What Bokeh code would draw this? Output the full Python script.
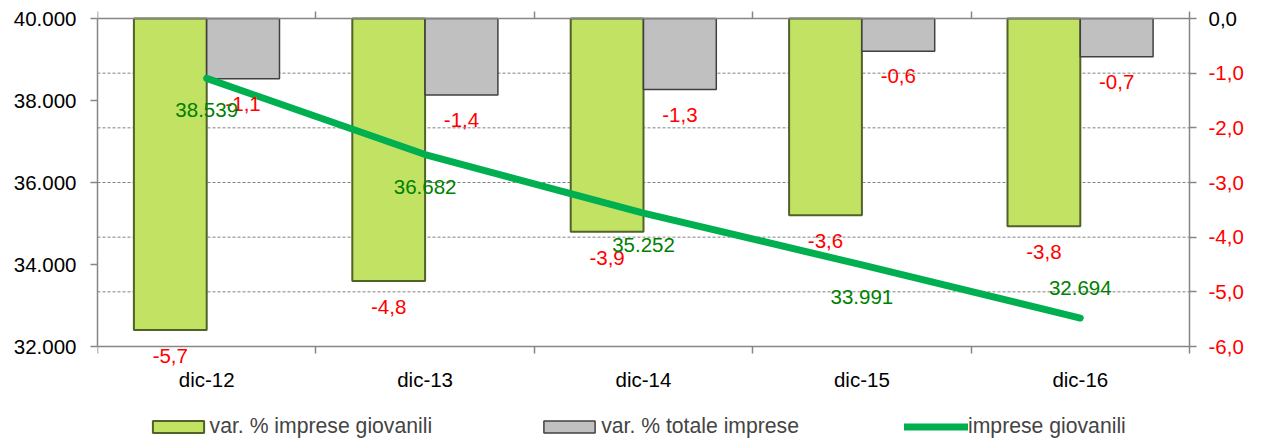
import numpy as np
from bokeh.plotting import figure
from bokeh.models import (Range1d, LinearAxis, FixedTicker, ColumnDataSource, Legend,
                          LegendItem, Label, LabelSet)
from bokeh.core.properties import value
from bokeh.embed import file_html
from bokeh.resources import INLINE

# ---- data ----
categories = ["dic-12", "dic-13", "dic-14", "dic-15", "dic-16"]
var_giovanili = [-5.7, -4.8, -3.9, -3.6, -3.8]      # right axis (%)
var_totale = [-1.1, -1.4, -1.3, -0.6, -0.7]         # right axis (%)
imprese_giovanili = [38539, 36682, 35252, 33991, 32694]  # left axis
left_ticks = [32000, 34000, 36000, 38000, 40000]
right_ticks = [-6.0, -5.0, -4.0, -3.0, -2.0, -1.0, 0.0]
series_names = ["var. % imprese giovanili", "var. % totale imprese", "imprese giovanili"]


def fmt_pct(v):
    return f"{v:.1f}".replace(".", ",")


def fmt_int(v):
    return f"{v:,.0f}".replace(",", ".")


FONT = "Liberation Sans"
FS = "20.5px"
FS_LEG = "21.2px"
GREY = "#868686"

# ---- layout (pixels) ----
W, H = 1261, 442
PLOT_L, PLOT_R, PLOT_T, PLOT_B = 97, 1189, 18, 346

n = len(categories)
idx = np.arange(n)
centers = idx + 0.5
bounds = np.arange(n + 1)
bw = 1 / 3

pct_lo, pct_hi = right_ticks[0], right_ticks[-1]
imp_lo, imp_hi = left_ticks[0], left_ticks[-1]
px_x = (PLOT_R - PLOT_L) / n
px_pct = (PLOT_B - PLOT_T) / (pct_hi - pct_lo)
px_imp = (PLOT_B - PLOT_T) / (imp_hi - imp_lo)

# the frame extends to the right/bottom/top edges of the canvas so nothing is clipped;
# the axes are pinned at the plot-area edges.
x_range = Range1d(0, n + (W - PLOT_R) / px_x)
y_range = Range1d(pct_lo - (H - PLOT_B) / px_pct, pct_hi + PLOT_T / px_pct)
imp_range = Range1d(imp_lo - (H - PLOT_B) / px_imp, imp_hi + PLOT_T / px_imp)

src = ColumnDataSource(dict(
    x=centers,
    x_g=centers - bw / 2,
    x_t=centers + bw / 2,
    g=var_giovanili,
    t=var_totale,
    imp=imprese_giovanili,
    lab_g=[fmt_pct(v) for v in var_giovanili],
    lab_t=[fmt_pct(v) for v in var_totale],
))
src_below = ColumnDataSource(dict(x=centers[:-1], imp=imprese_giovanili[:-1],
                                  lab=[fmt_int(v) for v in imprese_giovanili[:-1]]))
src_above = ColumnDataSource(dict(x=centers[-1:], imp=imprese_giovanili[-1:],
                                  lab=[fmt_int(v) for v in imprese_giovanili[-1:]]))
grid_src = ColumnDataSource(dict(y=right_ticks[1:-1]))

p = figure(width=W, height=H, x_range=x_range, y_range=y_range,
           x_axis_location=None, y_axis_location=None,
           output_backend="svg", toolbar_location=None,
           min_border_left=PLOT_L, min_border_right=0, min_border_top=0, min_border_bottom=0)
p.extra_y_ranges = {"imp": imp_range}
p.outline_line_color = None
p.background_fill_color = "white"
p.border_fill_color = "white"
p.xgrid.visible = False
p.ygrid.visible = False

# dashed grid at the right-axis ticks
p.segment(x0=0, x1=n, y0="y", y1="y", source=grid_src, line_color="#808080",
          line_dash="3 2", line_width=1, level="underlay")


def style_axis(ax):
    ax.axis_line_color = GREY
    ax.axis_line_width = 1.5
    ax.major_tick_line_color = GREY
    ax.major_tick_line_width = 1.5
    ax.minor_tick_line_color = GREY
    ax.minor_tick_line_width = 1.5
    ax.major_tick_in = 0
    ax.minor_tick_in = 0
    ax.major_label_text_font = FONT
    ax.major_label_text_font_size = FS


# bottom category axis
xa = LinearAxis(ticker=FixedTicker(ticks=list(centers), minor_ticks=list(bounds)),
                fixed_location=pct_lo, bounds=(0, n))
style_axis(xa)
xa.major_label_overrides = {float(c): cat for c, cat in zip(centers, categories)}
xa.major_tick_out = 0
xa.minor_tick_out = 7
xa.major_label_standoff = 14
xa.major_label_text_color = "black"
p.add_layout(xa, "below")

# top line with boundary ticks
ta = LinearAxis(ticker=FixedTicker(ticks=[], minor_ticks=list(bounds)),
                fixed_location=pct_hi, bounds=(0, n))
style_axis(ta)
ta.major_label_text_font_size = "0px"
ta.major_label_standoff = 0
ta.major_tick_out = 0
ta.minor_tick_out = 7
p.add_layout(ta, "above")

# right axis (percent)
ra = LinearAxis(ticker=FixedTicker(ticks=right_ticks), fixed_location=float(n),
                bounds=(pct_lo, pct_hi))
style_axis(ra)
ra.major_label_overrides = {v: ("" if v == 0 else fmt_pct(v)) for v in right_ticks}
ra.major_tick_out = 7
ra.minor_tick_line_color = None
ra.major_label_standoff = 12
ra.major_label_text_color = "#FF0000"
p.add_layout(ra, "right")

zero_lab = Label(x=float(n), y=pct_hi, x_offset=19, text=fmt_pct(pct_hi),
                 text_baseline="middle", text_align="left", text_font=FONT,
                 text_font_size=FS, text_color="black")
p.add_layout(zero_lab)

# left axis (count)
la = LinearAxis(y_range_name="imp", ticker=FixedTicker(ticks=left_ticks),
                bounds=(imp_lo, imp_hi))
style_axis(la)
la.major_label_overrides = {v: fmt_int(v) for v in left_ticks}
la.major_tick_out = 7
la.minor_tick_line_color = None
la.major_label_standoff = 14
la.major_label_text_color = "black"
p.add_layout(la, "left")

# bars
r_g = p.vbar(x="x_g", width=bw, top=0, bottom="g", source=src,
             fill_color="#C2E264", line_color="#4F6228", line_width=2)
r_t = p.vbar(x="x_t", width=bw, top=0, bottom="t", source=src,
             fill_color="#C0C0C0", line_color="#404040", line_width=1.5)

# line
r_l = p.line(x="x", y="imp", y_range_name="imp", source=src, line_color="#00B050",
             line_width=7, line_cap="round", line_join="round")

# data labels
common = dict(text_align="center", text_baseline="middle",
              text_font=value(FONT), text_font_size=value(FS))
p.add_layout(LabelSet(x="x_g", y="g", text="lab_g", y_offset=-26, source=src,
                      text_color="#FF0000", **common))
p.add_layout(LabelSet(x="x_t", y="t", text="lab_t", y_offset=-25, source=src,
                      text_color="#FF0000", **common))
p.add_layout(LabelSet(x="x", y="imp", text="lab", y_offset=-32, y_range_name="imp",
                      source=src_below, text_color="#008000", **common))
p.add_layout(LabelSet(x="x", y="imp", text="lab", y_offset=30, y_range_name="imp",
                      source=src_above, text_color="#008000", **common))

# legend
legend = Legend(items=[LegendItem(label=series_names[0], renderers=[r_g]),
                       LegendItem(label=series_names[1], renderers=[r_t]),
                       LegendItem(label=series_names[2], renderers=[r_l])],
                orientation="horizontal", location=(48.6, 4), spacing=105,
                padding=0, margin=0, glyph_width=64, glyph_height=15,
                label_standoff=0, label_height=15,
                label_text_font=FONT, label_text_font_size=FS_LEG,
                label_text_baseline="middle",
                border_line_color=None, background_fill_alpha=0)
p.add_layout(legend, "center")

open("out.html", "w").write(file_html(p, INLINE))
